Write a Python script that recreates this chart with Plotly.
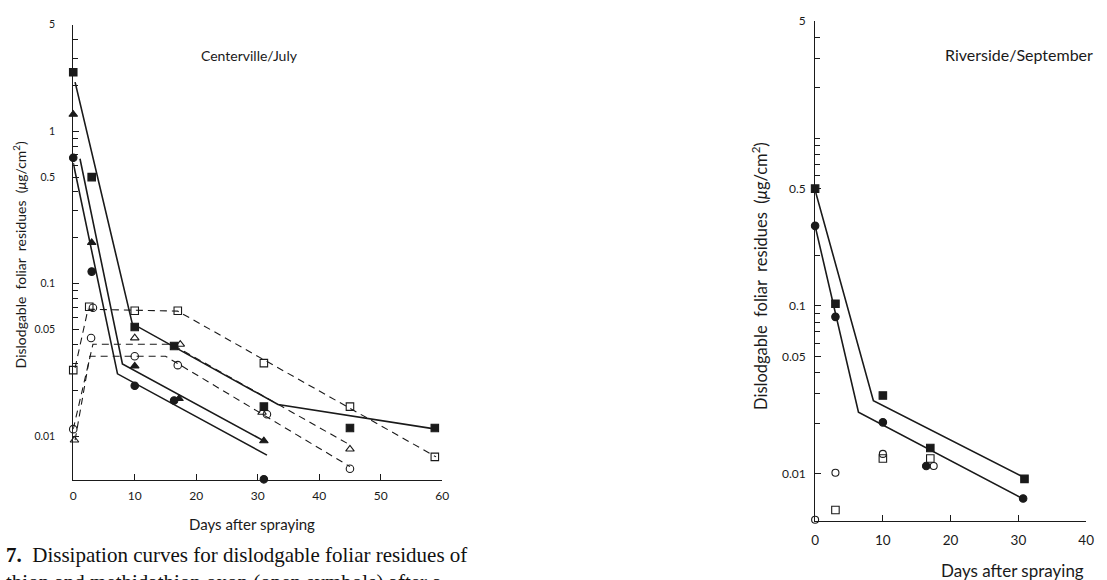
import plotly.graph_objects as go

# ---------------- Centerville / July (left panel) ----------------
# filled symbols (parent compound)
cv_sq_days = [0, 3, 10, 16.4, 31, 45, 58.8]
cv_sq_vals = [2.44, 0.50, 0.052, 0.039, 0.0156, 0.0113, 0.0113]
cv_tri_days = [0, 3, 10, 17.2, 31]
cv_tri_vals = [1.29, 0.186, 0.0288, 0.0176, 0.0093]
cv_ci_days = [0, 3, 10, 16.4, 31]
cv_ci_vals = [0.67, 0.120, 0.0214, 0.0171, 0.0052]
# open symbols (oxon)
cv_osq_days = [0, 2.6, 10, 17, 31, 45, 58.8]
cv_osq_vals = [0.0271, 0.0705, 0.0664, 0.0664, 0.0301, 0.0156, 0.0073]
cv_otri_days = [0.2, 10, 17.4, 30.7, 45]
cv_otri_vals = [0.0094, 0.044, 0.040, 0.0143, 0.0082]
cv_oci_days = [0, 2.9, 3.2, 10, 17, 31.5, 45]
cv_oci_vals = [0.0111, 0.044, 0.0695, 0.0334, 0.0292, 0.0139, 0.0061]

# fitted curves
cv_fit_sq_days = [0.3, 9.6, 33.3, 59]
cv_fit_sq_vals = [2.1, 0.0547, 0.0161, 0.0111]
cv_fit_tri_days = [1.1, 8.0, 31]
cv_fit_tri_vals = [0.66, 0.0297, 0.0093]
cv_fit_ci_days = [0, 7.2, 31.5]
cv_fit_ci_vals = [0.62, 0.0256, 0.0075]
cv_fit_osq_days = [0.3, 2.4, 17, 59]
cv_fit_osq_vals = [0.028, 0.068, 0.066, 0.0073]
cv_fit_otri_days = [0, 3.2, 16, 45]
cv_fit_otri_vals = [0.0111, 0.040, 0.040, 0.00875]
cv_fit_oci_days = [0.3, 2.7, 15, 45]
cv_fit_oci_vals = [0.0094, 0.0334, 0.0334, 0.0063]

# ---------------- Riverside / September (right panel) ----------------
rv_sq_days = [0, 3, 10, 17, 30.9]
rv_sq_vals = [0.50, 0.103, 0.0292, 0.0142, 0.0093]
rv_ci_days = [0, 3, 10, 16.4, 30.7]
rv_ci_vals = [0.30, 0.086, 0.0202, 0.0111, 0.0071]
rv_osq_days = [3, 10, 17]
rv_osq_vals = [0.00606, 0.0123, 0.0123]
rv_oci_days = [0, 3, 10, 17.5]
rv_oci_vals = [0.0053, 0.0101, 0.0131, 0.0111]

rv_fit_sq_days = [0, 8.6, 31]
rv_fit_sq_vals = [0.49, 0.0272, 0.0094]
rv_fit_ci_days = [0, 6.4, 30.6]
rv_fit_ci_vals = [0.30, 0.0232, 0.0071]

# axis ticks
left_major = [5, 1, 0.5, 0.1, 0.05, 0.01]
left_major_text = ["5", "1", "0.5", "0.1", "0.05", "0.01"]
left_minor = [4, 3, 2, 0.9, 0.8, 0.7, 0.6, 0.4, 0.3, 0.2, 0.09, 0.08, 0.07, 0.06, 0.04, 0.03, 0.02]
right_major = [5, 0.5, 0.1, 0.05, 0.01]
right_major_text = ["5", "0.5", "0.1", "0.05", "0.01"]
right_minor = [4, 3, 2, 1, 0.9, 0.8, 0.7, 0.6, 0.2, 0.09, 0.08, 0.07, 0.06, 0.04, 0.03, 0.02]
left_xticks = [0, 10, 20, 30, 40, 50, 60]
right_xticks = [0, 10, 20, 30, 40]

INK = "#1a1a1a"
SANS = "Lato, 'Open Sans', sans-serif"

fig = go.Figure()


def fit(x, y, xa, ya, dash=None, width=1.6):
    fig.add_trace(go.Scatter(x=x, y=y, xaxis=xa, yaxis=ya, mode="lines",
                             line=dict(color=INK, width=width, dash=dash),
                             showlegend=False, hoverinfo="skip"))


def pts(x, y, xa, ya, symbol, size=7.5):
    fig.add_trace(go.Scatter(x=x, y=y, xaxis=xa, yaxis=ya, mode="markers",
                             marker=dict(symbol=symbol, size=size, color=INK,
                                         line=dict(color=INK, width=1.1)),
                             cliponaxis=False, showlegend=False))


# left panel
fit(cv_fit_sq_days, cv_fit_sq_vals, "x", "y")
fit(cv_fit_tri_days, cv_fit_tri_vals, "x", "y")
fit(cv_fit_ci_days, cv_fit_ci_vals, "x", "y")
fit(cv_fit_osq_days, cv_fit_osq_vals, "x", "y", dash="7px,5px", width=1.1)
fit(cv_fit_otri_days, cv_fit_otri_vals, "x", "y", dash="7px,5px", width=1.1)
fit(cv_fit_oci_days, cv_fit_oci_vals, "x", "y", dash="7px,5px", width=1.1)
pts(cv_sq_days, cv_sq_vals, "x", "y", "square")
pts(cv_tri_days, cv_tri_vals, "x", "y", "triangle-up")
pts(cv_ci_days, cv_ci_vals, "x", "y", "circle")
pts(cv_osq_days, cv_osq_vals, "x", "y", "square-open")
pts(cv_otri_days, cv_otri_vals, "x", "y", "triangle-up-open")
pts(cv_oci_days, cv_oci_vals, "x", "y", "circle-open")

# right panel
fit(rv_fit_sq_days, rv_fit_sq_vals, "x2", "y2")
fit(rv_fit_ci_days, rv_fit_ci_vals, "x2", "y2")
pts(rv_sq_days, rv_sq_vals, "x2", "y2", "square")
pts(rv_ci_days, rv_ci_vals, "x2", "y2", "circle")
pts(rv_osq_days, rv_osq_vals, "x2", "y2", "square-open")
pts(rv_oci_days, rv_oci_vals, "x2", "y2", "circle-open", size=7)

W, H = 1107, 580

xcommon = dict(showgrid=False, zeroline=False, showline=True, linecolor=INK, linewidth=1,
               ticks="inside", ticklen=6, tickcolor=INK, tickmode="array")
ycommon = dict(type="log", showgrid=False, zeroline=False, showline=True, linecolor=INK,
               linewidth=1, ticks="inside", ticklen=6, tickcolor=INK, tickmode="array")

fig.update_layout(
    width=W, height=H,
    margin=dict(l=0, r=0, t=0, b=0),
    paper_bgcolor="white", plot_bgcolor="white",
    font=dict(family=SANS, color=INK),
    xaxis=dict(xcommon, domain=[70 / W, 443 / W], range=[0, 60], anchor="y",
               tickvals=left_xticks, ticklabelstandoff=4,
               tickfont=dict(size=12, family=SANS, color=INK)),
    yaxis=dict(ycommon, domain=[1 - 479 / H, 1 - 17 / H], range=[-2.291, 0.699], anchor="x",
               tickvals=left_major, ticktext=left_major_text, ticklabelstandoff=15,
               tickfont=dict(size=10.5, family=SANS, color=INK),
               minor=dict(tickmode="array", tickvals=left_minor, ticks="inside", ticklen=5,
                          tickcolor=INK)),
    xaxis2=dict(xcommon, domain=[820 / W, 1094 / W], range=[0, 40], anchor="y2",
                tickvals=right_xticks, ticklabelstandoff=7,
                tickfont=dict(size=13.5, family=SANS, color=INK)),
    yaxis2=dict(ycommon, domain=[1 - 520 / H, 1 - 13 / H], range=[-2.282, 0.70], anchor="x2",
                tickvals=right_major, ticktext=right_major_text, ticklabelstandoff=6,
                tickfont=dict(size=12, family=SANS, color=INK),
                minor=dict(tickmode="array", tickvals=right_minor, ticks="inside", ticklen=5,
                           tickcolor=INK)),
)

ann = [
    dict(text="Centerville/July", x=248 / W, y=1 - 48 / H, size=14),
    dict(text="Riverside/September", x=1026 / W, y=1 - 47 / H, size=16),
    dict(text="Days after spraying", x=251 / W, y=1 - 523 / H, size=15),
    dict(text="Days after spraying", x=1020 / W, y=1 - 570 / H, size=17),
]
for a in ann:
    fig.add_annotation(text=a["text"], x=a["x"], y=a["y"], xref="paper", yref="paper",
                       xanchor="center", yanchor="middle", showarrow=False,
                       font=dict(size=a["size"], family=SANS, color=INK))

ytitle = "Dislodgable foliar residues (<i>μ</i>g/cm<sup>2</sup>)"
fig.add_annotation(text=ytitle.replace(" ", "  "), x=16 / W, y=1 - 250 / H, xref="paper",
                   yref="paper", textangle=-90, showarrow=False, xanchor="center",
                   yanchor="middle", font=dict(size=14, family=SANS, color=INK))
fig.add_annotation(text=ytitle.replace(" ", "  "), x=765 / W, y=1 - 272 / H, xref="paper",
                   yref="paper", textangle=-90, showarrow=False, xanchor="center",
                   yanchor="middle", font=dict(size=16.5, family=SANS, color=INK))

SERIF = "'Liberation Serif', 'DejaVu Serif', serif"
fig.add_annotation(text="<b>7.</b>  Dissipation curves for dislodgable foliar residues of",
                   x=0, y=1 - 555 / H, xref="paper", yref="paper", xanchor="left",
                   yanchor="middle", showarrow=False,
                   font=dict(size=21, family=SERIF, color="#111"))
fig.add_annotation(text="thion and methidathion oxon (open symbols) after a",
                   x=0, y=1 - 582 / H, xref="paper", yref="paper", xanchor="left",
                   yanchor="middle", showarrow=False,
                   font=dict(size=21, family=SERIF, color="#111"))

fig.write_html("out.html")
